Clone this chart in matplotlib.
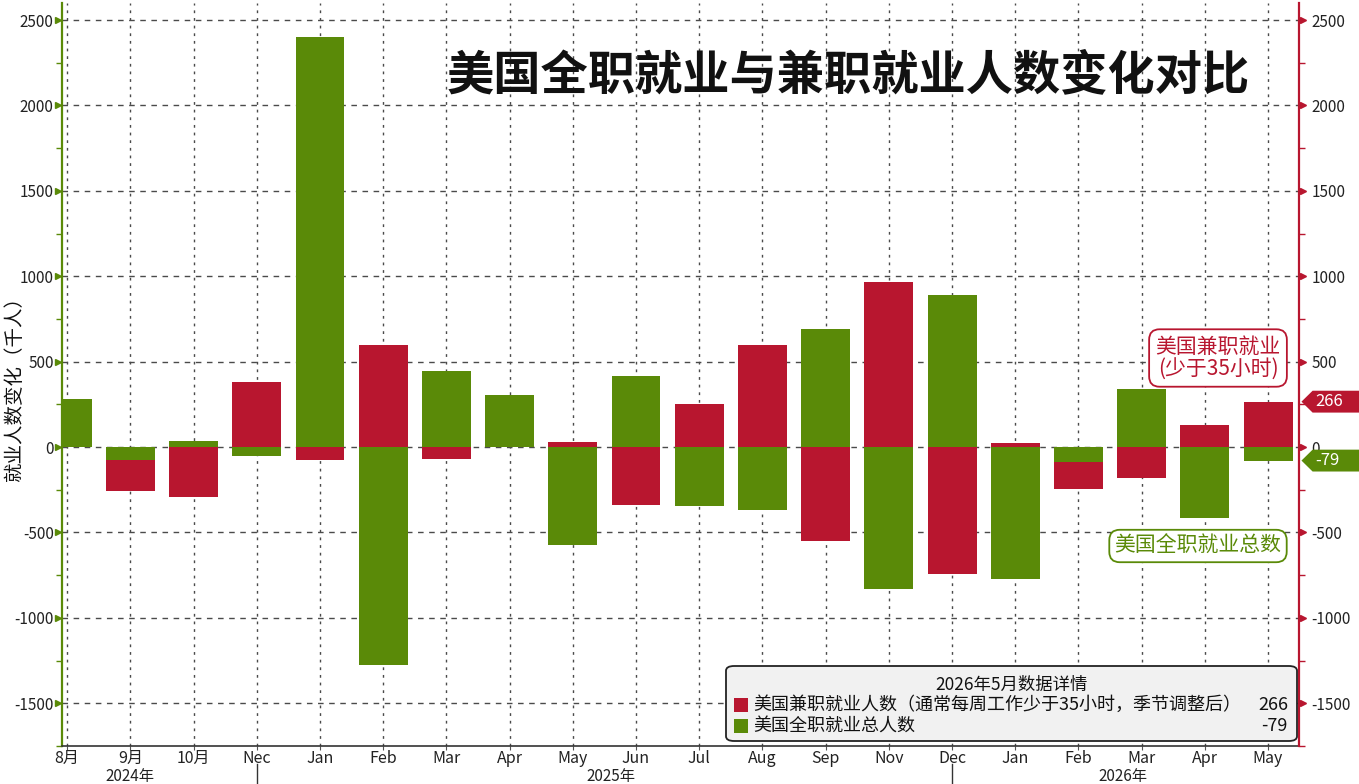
import numpy as np
import matplotlib
matplotlib.use('Agg')
import matplotlib.pyplot as plt
from matplotlib.patches import Polygon, FancyBboxPatch, Rectangle
from matplotlib.transforms import blended_transform_factory
from matplotlib.ticker import MultipleLocator

plt.rcParams['font.family'] = ['Noto Sans CJK SC', 'DejaVu Sans']
plt.rcParams['axes.unicode_minus'] = False

# data (thousands of persons, change per month)
months = ['8月', '9月', '10月', 'Nec', 'Jan', 'Feb', 'Mar', 'Apr', 'May', 'Jun',
          'Jul', 'Aug', 'Sep', 'Nov', 'Dec', 'Jan', 'Feb', 'Mar', 'Apr', 'May']
full_time = [280, -74, 37, -50, 2400, -1277, 444, 304, -573, 419,
             -344, -370, 693, -830, 892, -771, -88, 343, -414, -79]
part_time = [0, -184, -295, 381, -74, 598, -67, 0, 30, -337,
             252, 599, -550, 967, -742, 23, -155, -182, 127, 266]
years = ['2024年', '2025年', '2026年']
year_pos = [1.0, 8.6, 16.7]
year_breaks = [3, 14]
last_pt = 266
last_ft = -79

RED = '#b8162f'
GREEN = '#5a8a08'
GRID = '#4a4a4a'

fig = plt.figure(figsize=(13.59, 7.84), dpi=100)
ax = fig.add_axes([62 / 1359, 38 / 784, 1237 / 1359, 743 / 784])
ax2 = ax.twinx()

x = np.arange(len(months))
ft = np.array(full_time, dtype=float)
pt = np.array(part_time, dtype=float)
pt_bottom = np.where(np.sign(pt) == np.sign(ft), ft, 0)

ax.bar(x, ft, width=0.775, color=GREEN, zorder=3, linewidth=0)
ax.bar(x, pt, width=0.775, bottom=pt_bottom, color=RED, zorder=3, linewidth=0)

ylo, yhi = -1750, 2600
for a in (ax, ax2):
    a.set_ylim(ylo, yhi)
    a.set_yticks(np.arange(-1500, 2501, 500))
    a.yaxis.set_minor_locator(MultipleLocator(250))
ax.set_xlim(-0.082, 19.49)

# grid
for v in np.arange(-1500, 2501, 500):
    ax.axhline(v, color=GRID, lw=1, ls=(0, (4, 4)), zorder=1)
for xi in x:
    ax.axvline(xi, color=GRID, lw=1, ls=(0, (2, 3.5)), zorder=1)

# spines
for s in ['top', 'right']:
    ax.spines[s].set_visible(False)
for s in ['top', 'left', 'bottom']:
    ax2.spines[s].set_visible(False)
ax.spines['left'].set_color(GREEN)
ax.spines['left'].set_linewidth(1.6)
ax.spines['bottom'].set_color('#333333')
ax.spines['bottom'].set_linewidth(1.2)
ax2.spines['right'].set_color(RED)
ax2.spines['right'].set_linewidth(1.6)

ax.tick_params(axis='y', which='major', length=0, pad=6, labelsize=11, labelcolor='#222222')
ax.tick_params(axis='y', which='minor', length=4, width=1, color=GREEN, direction='out')
ax2.tick_params(axis='y', which='major', length=0, pad=9, labelsize=11, labelcolor='#222222')
ax2.tick_params(axis='y', which='minor', length=4, width=1, color=RED, direction='out')

ax.set_xticks(x)
ax.set_xticklabels(months, fontsize=11.5, color='#222222')
ax.tick_params(axis='x', length=3, color='#555555', pad=0)

# triangle tick markers
yt = np.arange(-1500, 2501, 500)
tl = blended_transform_factory(ax.transAxes, ax.transData)
ax.plot(np.full(len(yt), -0.0035), yt, '>', color=GREEN, ms=5, transform=tl, clip_on=False, zorder=5)
ax2.plot(np.full(len(yt), 1.0035), yt, '>', color=RED, ms=5, transform=tl, clip_on=False, zorder=5)

# year labels and separators
tb = blended_transform_factory(ax.transData, ax.transAxes)
for xp, lab in zip(year_pos, years):
    ax.text(xp, -0.041, lab, transform=tb, ha='center', va='center', fontsize=11, color='#222222')
for xb in year_breaks:
    ax.plot([xb, xb], [-0.024, -0.06], color='#333333', lw=1, transform=tb, clip_on=False)

# y label
fig.text(15 / 1359, 1 - 384 / 784, '就业人数变化（千人）', rotation=90, ha='center', va='center',
         fontsize=14, color='#111111')

# title
ax.text(447 / 1359, 1 - 75 / 784, '美国全职就业与兼职就业人数变化对比', transform=fig.transFigure,
        ha='left', va='center', fontsize=34, fontweight='bold', color='#111111', zorder=6)

# series annotation boxes
ax2.text(1218 / 1359, 1 - 358 / 784, '美国兼职就业\n(少于35小时)', transform=fig.transFigure,
         ha='center', va='center', fontsize=15, color=RED, linespacing=1.05, zorder=6,
         bbox=dict(boxstyle='round,pad=0.3,rounding_size=0.5', fc='white', ec=RED, lw=1.3))
ax2.text(1198 / 1359, 1 - 546 / 784, '美国全职就业总数', transform=fig.transFigure,
         ha='center', va='center', fontsize=15, color=GREEN, zorder=6,
         bbox=dict(boxstyle='round,pad=0.25,rounding_size=0.5', fc='white', ec=GREEN, lw=1.3))

# value tags on right axis
tr = blended_transform_factory(ax2.transAxes, ax2.transData)
for val, col in [(last_pt, RED), (last_ft, GREEN)]:
    h = 64
    poly = Polygon([(1.002, val), (1.011, val + h), (1.08, val + h), (1.08, val - h), (1.011, val - h)],
                   closed=True, fc=col, ec='none', transform=tr, clip_on=False, zorder=7)
    ax2.add_patch(poly)
    ax2.text(1.013, val, f'{val}', transform=tr, ha='left', va='center', fontsize=12,
             color='white', clip_on=False, zorder=8)

# data detail box
box = FancyBboxPatch((726 / 1359, 1 - 741 / 784), 571 / 1359, 75 / 784,
                     boxstyle='round,pad=0,rounding_size=0.006', transform=fig.transFigure,
                     fc='#f1f1f1', ec='#222222', lw=1.3, zorder=9)
fig.patches.append(box)
fig.text(1011 / 1359, 1 - 685 / 784, '2026年5月数据详情', ha='center', va='center', fontsize=12.5,
         color='#111111', zorder=10)
rows = [('美国兼职就业人数（通常每周工作少于35小时，季节调整后）', last_pt, RED, 705),
        ('美国全职就业总人数', last_ft, GREEN, 726)]
for lab, val, col, yy in rows:
    fig.patches.append(Rectangle((734 / 1359, 1 - (yy + 7) / 784), 14 / 1359, 14 / 784,
                                 transform=fig.transFigure, fc=col, ec='none', zorder=10))
    fig.text(753 / 1359, 1 - yy / 784, lab, ha='left', va='center', fontsize=13, color='#111111', zorder=10)
    fig.text(1288 / 1359, 1 - yy / 784, f'{val}', ha='right', va='center', fontsize=13,
             color='#111111', zorder=10)

fig.savefig('out.png', dpi=100)
